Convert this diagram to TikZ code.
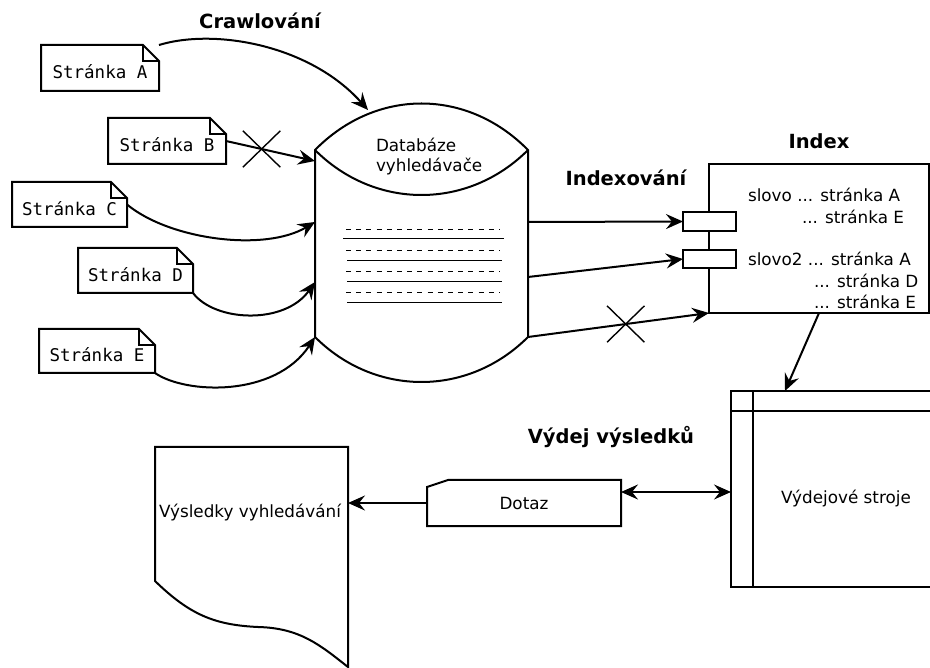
\documentclass[tikz,border=0pt]{standalone}
\usepackage{fontspec}
\setmainfont{DejaVu Sans}
\newfontfamily\pagefont{DejaVu Sans Mono}
\usetikzlibrary{arrows.meta,shapes.misc}
\begin{document}
\begin{tikzpicture}[x=1pt,y=-1pt,
  line width=2pt,
  >={Stealth[length=17pt,width=15pt,inset=6pt]},
  conn/.style={line width=2pt,->},
  pagebox/.style={rectangle,inner sep=0pt,outer sep=0pt,draw=none,
     font=\pagefont\fontsize{17.5}{19}\selectfont,text height=22pt,text depth=0pt},
  title/.style={font=\bfseries\fontsize{19.5}{22}\selectfont,inner sep=0pt},
  txt/.style={font=\fontsize{16.8}{20}\selectfont,inner sep=0pt},
  comp/.style={rectangle,draw,fill=white,inner sep=0pt,outer sep=0pt,minimum width=53pt},
  xmark/.style={cross out,draw,line width=1.4pt,inner sep=0pt,minimum width=36pt,minimum height=35pt},
  rowline/.style={line width=1pt}
]
\useasboundingbox (0,0) rectangle (930,668);
\clip (0,0) rectangle (930,668);

% ---------- pages ----------
\node[pagebox,minimum width=118pt,minimum height=46pt] (A) at (100,68) {Stránka A};
\node[pagebox,minimum width=118pt,minimum height=46pt] (B) at (167,141) {Stránka B};
\node[pagebox,minimum width=115pt,minimum height=45pt] (C) at (69.5,204.5) {Stránka C};
\node[pagebox,minimum width=115pt,minimum height=45pt] (D) at (135.5,270.5) {Stránka D};
\node[pagebox,minimum width=116pt,minimum height=44pt] (E) at (97,351) {Stránka E};
\foreach \p in {A,B,C,D,E}{
  \draw (\p.south west) -- (\p.north west) -- ([xshift=-16pt]\p.north east)
        -- ([yshift=-16pt]\p.north east) -- (\p.south east) -- cycle;
  \draw ([xshift=-16pt]\p.north east) |- ([yshift=-16pt]\p.north east);
}

% ---------- database cylinder ----------
\node[rectangle,inner sep=0pt,minimum width=213pt,minimum height=279pt] (db) at (421.5,242.5) {};
\draw (315,150) .. controls (376,88) and (467,88) .. (528,150)
      -- (528,337) .. controls (468,397) and (375,397) .. (315,337) -- cycle;
\draw (315,150) .. controls (375,210) and (468,210) .. (528,150);
\node[txt,align=left,anchor=north west] (dbtext) at (375,137) {Databáze\\vyhledávače};
\foreach \y in {230,251,272,293}{
  \draw[rowline,dash pattern=on 5pt off 5.2pt] (346,\y) -- (500,\y);
}
\draw[rowline] (343,239) -- (504,239);
\foreach \y in {261,282,303}{
  \draw[rowline] (347,\y) -- (502,\y);
}
\coordinate (dbA) at (368,110);
\coordinate (dbB) at (315,161);
\coordinate (dbC) at (315,222);
\coordinate (dbD) at (315,282);
\coordinate (dbE) at (315,337);
\coordinate (dbR1) at (528,222);
\coordinate (dbR2) at (528,277);
\coordinate (dbR3) at (528,337);

% ---------- crawling arrows ----------
\draw[conn] (A.north east) .. controls (215,28) and (310,45) .. (dbA);
\draw[conn] (B.east) -- node[pos=0.4,xmark] (xb) {} (dbB);
\draw[conn] (C.east) .. controls (170,240) and (265,252) .. (dbC);
\draw[conn] (D.south east) .. controls (215,322) and (285,325) .. (dbD);
\draw[conn] (E.south east) .. controls (185,394) and (275,398) .. (dbE);

% ---------- index ----------
\node[rectangle,draw,inner sep=0pt,outer sep=0pt,minimum width=220pt,minimum height=149pt] (idx) at (819,238.5) {};
\node[comp,minimum height=19pt] (c1) at (709.5,221.5) {};
\node[comp,minimum height=18pt] (c2) at (709.5,259) {};
\node[txt,align=left,anchor=north west,font=\fontsize{16.8}{21.3}\selectfont] (idxtext) at (747,187.5)
  {slovo ... stránka A\\
   \hspace*{54pt}... stránka E\\[21.3pt]
   slovo2 ... stránka A\\
   \hspace*{66pt}... stránka D\\
   \hspace*{66pt}... stránka E};

\draw[conn] (dbR1) -- (c1.west);
\draw[conn] (dbR2) -- (c2.west);
\draw[conn] (dbR3) -- node[pos=0.54,xmark] (xi) {} (idx.south west);

% ---------- titles ----------
\node[title] (t1) at (260,21) {Crawlování};
\node[title] (t2) at (626,178) {Indexování};
\node[title] (t3) at (819,141) {Index};
\node[title] (t4) at (611,437) {Výdej výsledků};

% ---------- output machines ----------
\node[rectangle,draw,inner sep=0pt,outer sep=0pt,minimum width=204pt,minimum height=196pt] (vs) at (833,489) {};
\draw ([xshift=22pt]vs.north west) -- ([xshift=22pt]vs.south west);
\draw ([yshift=-20pt]vs.north west) -- ([yshift=-20pt]vs.north east);
\node[txt] (vstext) at (846,499) {Výdejové stroje};
\draw[conn] (idx.south) -- ([xshift=-48pt]vs.north);

% ---------- query ----------
\node[txt,rectangle,inner sep=0pt,outer sep=0pt,minimum width=194pt,minimum height=46pt] (dq) at (524,503) {Dotaz};
\draw (dq.south west) -- ([yshift=-7pt]dq.north west) -- ([xshift=21pt]dq.north west)
      -- (dq.north east) -- (dq.south east) -- cycle;
\draw[line width=2pt,<->] ([yshift=11pt]dq.east) -- ([yshift=11pt]dq.east -| vs.west);

% ---------- results document ----------
\node[rectangle,inner sep=0pt,outer sep=0pt,minimum width=193pt,minimum height=220pt] (res) at (251.5,557) {};
\draw (res.north west) -- (res.north east) -- (res.south east)
      .. controls (320,645) and (300,628) .. (258,627)
      .. controls (215,625) and (190,615) .. (155,581) -- cycle;
\node[txt] (restext) at (250,513) {Výsledky vyhledávání};
\draw[conn] (dq.west) -- (dq.west -| res.east);
\end{tikzpicture}
\end{document}
